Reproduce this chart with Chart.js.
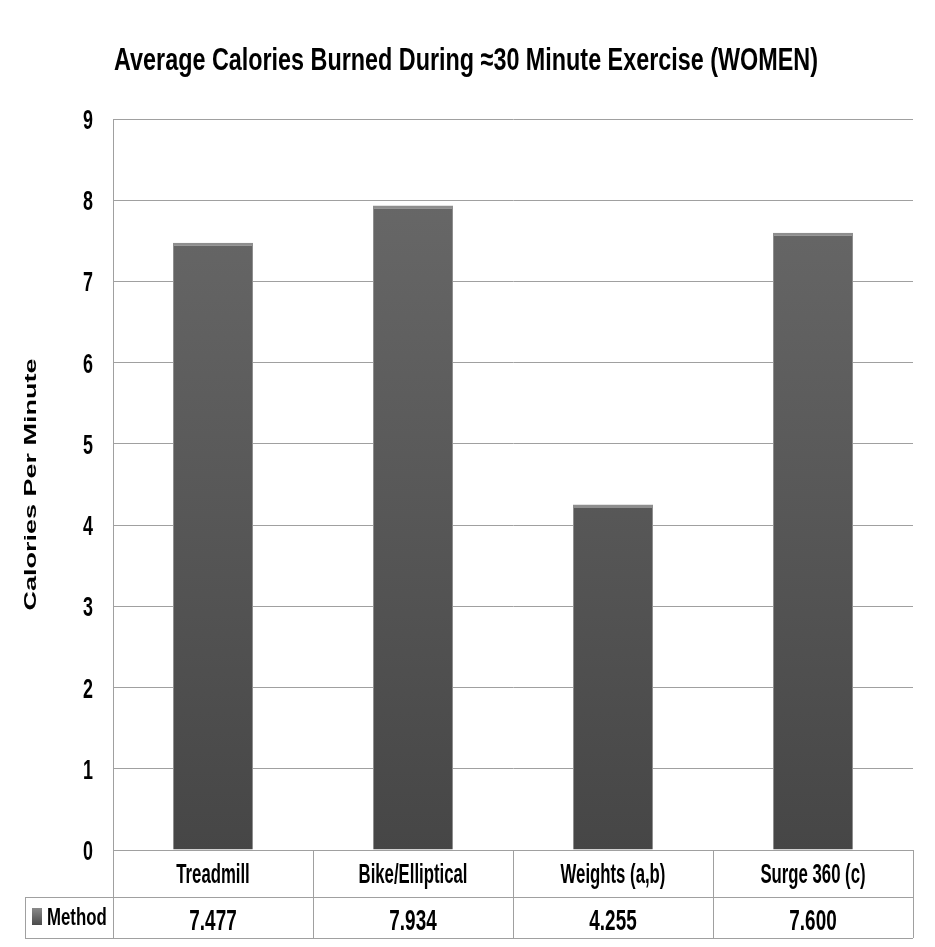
<!DOCTYPE html>
<html>
<head>
<meta charset="utf-8">
<script src="https://cdn.jsdelivr.net/npm/chart.js@4.4.1/dist/chart.umd.min.js"></script>
<style>
html, body { margin: 0; padding: 0; background: #fff; }
#wrap { width: 935px; height: 947px; }
</style>
</head>
<body>
<div id="wrap"><canvas id="chart" width="935" height="947"></canvas></div>
<script>
const chartTitle = 'Average Calories Burned During \u224830 Minute Exercise (WOMEN)';
const axisTitle = 'Calories Per Minute';
const seriesName = 'Method';
const methods = ['Treadmill', 'Bike/Elliptical', 'Weights (a,b)', 'Surge 360 (c)'];
const calories = [7.477, 7.934, 4.255, 7.600];
const yTicks = [0, 1, 2, 3, 4, 5, 6, 7, 8, 9];

const wideFont = '"Liberation Sans", Arial, sans-serif';
const lineGray = '#a0a0a0';

// the reference text is squashed sideways, so draw it through a scaled context
function squeezeText(ctx, text, x, y, size, sx, align) {
	ctx.save();
	ctx.font = 'bold ' + size + 'px ' + wideFont;
	ctx.textAlign = align || 'center';
	ctx.textBaseline = 'alphabetic';
	ctx.translate(x, y);
	ctx.scale(sx, 1);
	ctx.fillText(text, 0, 0);
	ctx.restore();
}

function barFill(c) {
	const area = c.chart.chartArea;
	if (!area) return '#5a5a5a';
	const g = c.chart.ctx.createLinearGradient(0, area.top, 0, area.bottom);
	g.addColorStop(0, '#6b6b6b');
	g.addColorStop(1, '#464646');
	return g;
}

const titlesPlugin = {
	id: 'titles',
	afterDraw(chart) {
		const ctx = chart.ctx, area = chart.chartArea, ys = chart.scales.y;
		ctx.save();
		ctx.fillStyle = '#000';
		squeezeText(ctx, chartTitle, 466, 70, 32, 0.73);

		// y tick labels, placed by the y scale
		ys.ticks.forEach(function (t) {
			squeezeText(ctx, String(t.value), area.left - 20, ys.getPixelForValue(t.value) + 10, 28, 0.64, 'right');
		});

		// vertical axis title
		ctx.translate(36, (area.top + area.bottom) / 2);
		ctx.rotate(-Math.PI / 2);
		ctx.scale(1, 0.6);
		ctx.font = 'bold 27px ' + wideFont;
		ctx.textAlign = 'center';
		ctx.textBaseline = 'alphabetic';
		ctx.fillText(axisTitle, 0, 0);
		ctx.restore();
	}
};

const tablePlugin = {
	id: 'dataTable',
	afterDraw(chart) {
		const ctx = chart.ctx, area = chart.chartArea, xs = chart.scales.x;
		const step = (area.right - area.left) / methods.length;
		const rowTop = area.bottom, rowMid = area.bottom + 47, rowBot = area.bottom + 88;
		const tableLeft = 25;

		ctx.save();
		ctx.strokeStyle = lineGray;
		ctx.lineWidth = 1;
		ctx.beginPath();
		for (let i = 0; i <= methods.length; i++) {
			const x = Math.round(area.left + i * step) + 0.5;
			ctx.moveTo(x, rowTop);
			ctx.lineTo(x, rowBot);
		}
		ctx.moveTo(tableLeft + 0.5, rowMid);
		ctx.lineTo(tableLeft + 0.5, rowBot);
		[rowMid, rowBot].forEach(function (y) {
			ctx.moveTo(tableLeft, y + 0.5);
			ctx.lineTo(area.right, y + 0.5);
		});
		ctx.stroke();

		ctx.fillStyle = '#000';
		methods.forEach(function (m, i) {
			const cx = xs.getPixelForValue(i);
			squeezeText(ctx, m, cx, rowTop + 33, 27, 0.62);
			squeezeText(ctx, calories[i].toFixed(3), cx, rowMid + 33, 30, 0.63);
		});

		// legend key + series name
		const kg = ctx.createLinearGradient(0, rowMid + 11, 0, rowMid + 28);
		kg.addColorStop(0, '#8a8a8a');
		kg.addColorStop(1, '#4a4a4a');
		ctx.fillStyle = kg;
		ctx.fillRect(32, rowMid + 11, 10, 17);
		ctx.fillStyle = '#000';
		squeezeText(ctx, seriesName, 47, rowMid + 28, 24, 0.7, 'left');
		ctx.restore();
	}
};

new Chart(document.getElementById('chart'), {
	type: 'bar',
	data: {
		labels: methods,
		datasets: [{
			label: seriesName,
			data: calories,
			backgroundColor: barFill,
			borderColor: '#8e8e8e',
			borderWidth: { top: 3, left: 1, right: 1, bottom: 0 },
			borderSkipped: false,
			categoryPercentage: 1,
			barPercentage: 0.4
		}]
	},
	options: {
		responsive: false,
		animation: false,
		layout: { padding: { top: 119, right: 22, bottom: 97, left: 0 } },
		plugins: {
			legend: { display: false },
			title: { display: false },
			tooltip: { enabled: false }
		},
		scales: {
			x: { display: false },
			y: {
				min: 0,
				max: 9,
				afterFit: function (scale) { scale.width = 113; },
				afterBuildTicks: function (scale) {
					scale.ticks = yTicks.map(function (v) { return { value: v }; });
				},
				ticks: { display: false },
				grid: { color: lineGray, drawTicks: false },
				border: { display: true, color: lineGray }
			}
		}
	},
	plugins: [titlesPlugin, tablePlugin]
});
</script>
</body>
</html>
